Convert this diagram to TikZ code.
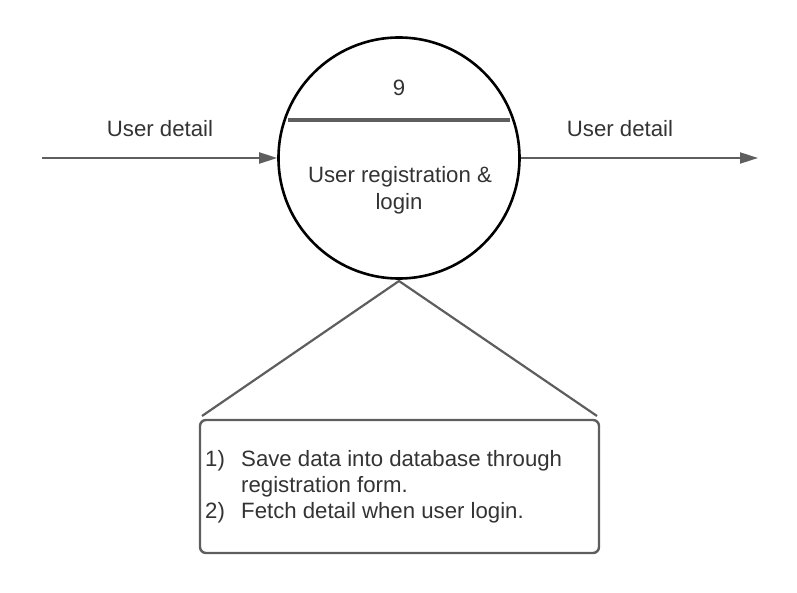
\documentclass[tikz,border=0pt]{standalone}
\usepackage{fontspec}
\setmainfont{Liberation Sans}
\usetikzlibrary{arrows.meta,calc}
\definecolor{linegray}{HTML}{5E5E5E}
\definecolor{txt}{HTML}{333333}
\begin{document}
\begin{tikzpicture}[x=1pt,y=-1pt,
  lbl/.style={text=txt,font=\fontsize{22.2}{26}\selectfont,inner sep=0pt},
  flow/.style={draw=linegray,line width=2pt,-{Triangle[length=18pt,width=11pt]}},
  proc/.style={circle,draw=black,line width=2.6pt,minimum size=241pt,inner sep=0pt},
  notebox/.style={draw=linegray,line width=2.4pt,rounded corners=6pt,minimum width=399pt,minimum height=133pt,inner sep=0pt},
  wedge/.style={draw=linegray,line width=2.2pt}]
\useasboundingbox (0,0) rectangle (797,593);
% process circle
\node[proc] (p) at (399,158) {};
\draw[draw=linegray,line width=3.6pt] ($(p.center)+(-111,-38)$) -- ($(p.center)+(111,-38)$);
\node[lbl,anchor=base] (num) at (399,95.5) {9};
\node[lbl,anchor=base] (t1) at (400,182.5) {User registration \&};
\node[lbl,anchor=base] (t2) at (399,209.5) {login};
% flows
\coordinate (src) at (42,158);
\coordinate (dst) at (758,158);
\draw[flow] (src) -- (p.west);
\draw[flow] (p.east) -- (dst);
\node[lbl,anchor=base] (l1) at (160,136.5) {User detail};
\node[lbl,anchor=base] (l2) at (620,136.5) {User detail};
% annotation
\node[notebox] (note) at (399.5,486.5) {};
\coordinate (apex) at (399,281);
\coordinate (wl) at (202,416);
\coordinate (wr) at (597,416);
\draw[wedge] (wl) -- (apex) -- (wr);
\node[lbl,anchor=base west] (n1) at (205,466.5) {1)};
\node[lbl,anchor=base west] (n2) at (241,466.5) {Save data into database through};
\node[lbl,anchor=base west] (n3) at (241,492) {registration form.};
\node[lbl,anchor=base west] (n4) at (205,518) {2)};
\node[lbl,anchor=base west] (n5) at (241,518) {Fetch detail when user login.};
\end{tikzpicture}
\end{document}
